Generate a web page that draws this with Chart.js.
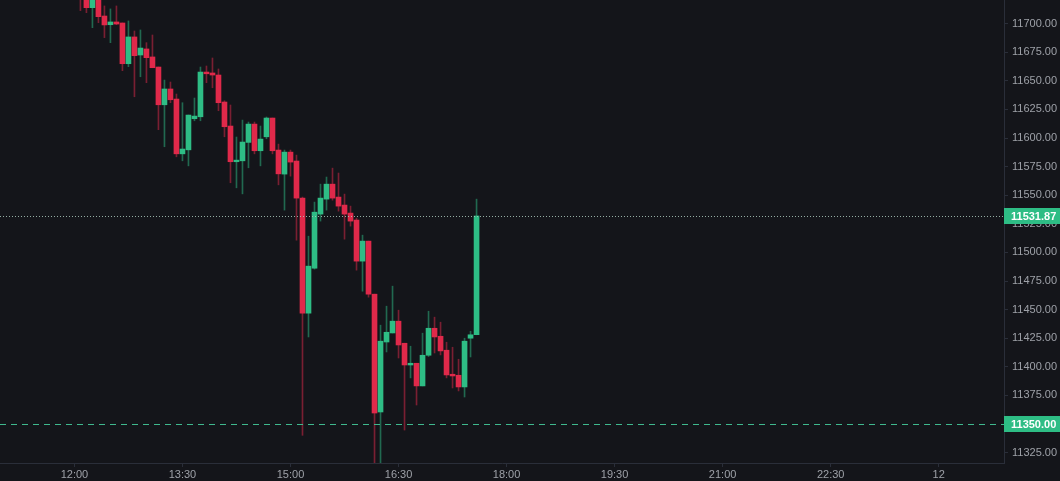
<!DOCTYPE html>
<html>
<head>
<meta charset="utf-8">
<title>Candles</title>
<script src="https://cdn.jsdelivr.net/npm/chart.js@4.4.0/dist/chart.umd.min.js"></script>
<style>
  html, body { margin: 0; padding: 0; background: #14151a; }
  #wrap { width: 1060px; height: 481px; }
</style>
</head>
<body>
<div id="wrap"><canvas id="priceChart" width="1060" height="481"></canvas></div>
<script>
'use strict';

// 5 minute candles
var times = ['12:05','12:10','12:15','12:20','12:25','12:30','12:35','12:40','12:45','12:50',
             '12:55','13:00','13:05','13:10','13:15','13:20','13:25','13:30','13:35','13:40',
             '13:45','13:50','13:55','14:00','14:05','14:10','14:15','14:20','14:25','14:30',
             '14:35','14:40','14:45','14:50','14:55','15:00','15:05','15:10','15:15','15:20',
             '15:25','15:30','15:35','15:40','15:45','15:50','15:55','16:00','16:05','16:10',
             '16:15','16:20','16:25','16:30','16:35','16:40','16:45','16:50','16:55','17:00',
             '17:05','17:10','17:15','17:20','17:25','17:30','17:35'];

var opens  = [11738, 11724, 11714.0, 11723, 11706.7, 11699.1, 11701.5, 11700.6, 11665.0, 11688.4,
              11672.6, 11677.9, 11670.9, 11662.1, 11629.1, 11642.9, 11634.1, 11586.2, 11589.7, 11616.9,
              11618.6, 11657.7, 11656.9, 11655.1, 11631.5, 11610.5, 11579.3, 11580.1, 11596.2, 11612.2,
              11588.9, 11601.1, 11617.5, 11589.5, 11568.5, 11587.7, 11579.9, 11547.5, 11446.9, 11486.2,
              11533.5, 11546.6, 11559.7, 11548.4, 11541.4, 11534.4, 11528.3, 11492.4, 11509.9, 11463.5,
              11360.5, 11421.7, 11429.6, 11439.9, 11420.6, 11401.6, 11403.1, 11383.3, 11410.1, 11433.7,
              11426.7, 11414.5, 11393.5, 11392.6, 11382.4, 11425.0, 11428.1];
var highs  = [11742, 11728, 11726, 11725, 11715.5, 11712.9, 11715.5, 11700.6, 11702.4, 11693.6,
              11694.5, 11683.4, 11690.1, 11662.1, 11650.7, 11649.0, 11638.5, 11630.9, 11620.1, 11635.0,
              11662.1, 11663.0, 11670.0, 11660.4, 11632.6, 11628.9, 11600.9, 11615.7, 11614.0, 11614.0,
              11610.5, 11618.4, 11617.5, 11594.7, 11589.5, 11589.5, 11585.1, 11548.4, 11514.2, 11544.0,
              11559.7, 11565.9, 11573.7, 11569.4, 11551.0, 11540.5, 11530.0, 11515.1, 11509.9, 11463.5,
              11436.4, 11453.0, 11470.5, 11449.5, 11420.6, 11418.0, 11403.1, 11429.4, 11448.6, 11443.4,
              11439.0, 11421.5, 11417.1, 11406.6, 11425.0, 11431.1, 11546.6];
var lows   = [11711.4, 11709.6, 11696.5, 11700.9, 11687.8, 11683.4, 11699.1, 11658.9, 11662.4, 11636.1,
              11653.6, 11648.4, 11661.5, 11607.3, 11592.4, 11630.9, 11583.6, 11580.1, 11575.7, 11615.1,
              11615.1, 11648.4, 11644.0, 11623.9, 11601.1, 11560.9, 11556.5, 11551.2, 11574.0, 11586.2,
              11575.7, 11599.4, 11586.2, 11559.1, 11537.0, 11566.7, 11510.7, 11340.1, 11426.1, 11485.4,
              11527.4, 11537.0, 11545.7, 11536.1, 11511.6, 11523.0, 11484.5, 11466.1, 11460.9, 11310,
              11312, 11413.0, 11429.6, 11407.7, 11344.7, 11390.3, 11366.6, 11383.3, 11409, 11412.1,
              11410.4, 11390.3, 11381.5, 11378.9, 11373.6, 11408.6, 11428];
var closes = [11722, 11714.0, 11723, 11706.1, 11698.9, 11701.5, 11699.7, 11665.0, 11688.4, 11672.0,
              11678.7, 11670.3, 11661.5, 11629.1, 11642.9, 11633.5, 11586.2, 11590.4, 11620.1, 11619.2,
              11657.7, 11656.2, 11655.1, 11630.9, 11609.9, 11579.3, 11580.7, 11596.5, 11612.2, 11588.9,
              11599.1, 11617.5, 11588.9, 11568.7, 11587.7, 11579.0, 11547.5, 11446.9, 11488.0, 11535.2,
              11547.5, 11559.7, 11547.5, 11540.5, 11533.5, 11527.4, 11492.4, 11509.9, 11463.5, 11359.6,
              11422.4, 11430.2, 11439.9, 11419.1, 11401.6, 11403.1, 11383.3, 11410.1, 11433.7, 11426.1,
              11413.9, 11392.9, 11392.0, 11382.4, 11422.4, 11428.0, 11531.87];

var timeTicks  = ['12:00','13:30','15:00','16:30','18:00','19:30','21:00','22:30','12'];
var priceTicks = [11325, 11350, 11375, 11400, 11425, 11450, 11475, 11500, 11525, 11550,
                  11575, 11600, 11625, 11650, 11675, 11700];
var lastPrice = 11531.87;
var markPrice = 11350;

var UP = '#2ebd85', DOWN = '#e0294a';
var UP_WICK = 'rgba(46,189,133,0.5)', DOWN_WICK = 'rgba(224,41,74,0.5)';

// "12" is the day label, i.e. midnight
function toMin(t) {
	if (t.indexOf(':') < 0) return 24 * 60;
	var p = t.split(':');
	return parseInt(p[0]) * 60 + parseInt(p[1]);
}

var xs = times.map(toMin);
var tickMins = timeTicks.map(toMin);

var bodies = [], wicks = [], bodyColors = [], wickColors = [];
for (var i = 0; i < xs.length; i++) {
	bodies.push({ x: xs[i], y: [opens[i], closes[i]] });
	wicks.push({ x: xs[i], y: [lows[i], highs[i]] });
	var up = closes[i] >= opens[i];
	bodyColors.push(up ? UP : DOWN);
	wickColors.push(up ? UP_WICK : DOWN_WICK);
}

var priceLines = {
	id: 'priceLines',
	afterDatasetsDraw: function (chart) {
		var c = chart.ctx, a = chart.chartArea, y = chart.scales.y;
		c.save();
		c.lineWidth = 1;
		// last price, dotted
		var yl = Math.round(y.getPixelForValue(lastPrice)) + 0.5;
		c.strokeStyle = 'rgba(170,200,188,0.85)';
		c.setLineDash([1, 2]);
		c.beginPath(); c.moveTo(a.left, yl); c.lineTo(a.right, yl); c.stroke();
		// marked level, dashed
		var ym = Math.round(y.getPixelForValue(markPrice)) + 0.5;
		c.strokeStyle = '#3fb98e';
		c.setLineDash([6, 5]);
		c.beginPath(); c.moveTo(a.left, ym); c.lineTo(a.right, ym); c.stroke();
		c.restore();
	},
	afterDraw: function (chart) {
		var c = chart.ctx, a = chart.chartArea, y = chart.scales.y;
		c.save();
		[lastPrice, markPrice].forEach(function (v) {
			var py = y.getPixelForValue(v);
			c.fillStyle = UP;
			c.fillRect(a.right, Math.round(py) - 8, chart.width - a.right, 16);
			c.fillStyle = '#ffffff';
			c.font = 'bold 11px "Liberation Sans", Arial, sans-serif';
			c.textBaseline = 'middle';
			c.textAlign = 'left';
			c.fillText(v.toFixed(2), a.right + 7, Math.round(py) + 0.5);
		});
		c.restore();
	}
};

var ctx = document.getElementById('priceChart').getContext('2d');

var chart = new Chart(ctx, {
	type: 'bar',
	data: {
		datasets: [{
			label: 'body',
			data: bodies,
			backgroundColor: bodyColors,
			barThickness: 5,
			minBarLength: 1,
			grouped: false,
			borderWidth: 0
		}, {
			label: 'wick',
			data: wicks,
			backgroundColor: wickColors,
			barThickness: 1,
			grouped: false,
			borderWidth: 0
		}]
	},
	options: {
		responsive: false,
		animation: false,
		devicePixelRatio: 1,
		layout: { padding: 0 },
		plugins: { legend: { display: false }, tooltip: { enabled: false } },
		scales: {
			x: {
				type: 'linear',
				min: 658,
				max: 1494.4,
				offset: false,
				grid: { display: true, drawOnChartArea: false, offset: false, color: '#2a2e39', tickLength: 4 },
				border: { display: true, color: '#2a2e39' },
				afterBuildTicks: function (s) { s.ticks = tickMins.map(function (v) { return { value: v }; }); },
				afterFit: function (s) { s.height = 18; s.paddingLeft = 0; s.paddingRight = 0; },
				ticks: {
					autoSkip: false,
					maxRotation: 0,
					padding: 1,
					color: '#9ea1a8',
					font: { family: '"Liberation Sans", Arial, sans-serif', size: 11 },
					callback: function (v) { return timeTicks[tickMins.indexOf(v)]; }
				}
			},
			y: {
				position: 'right',
				min: 11315.9,
				max: 11720.7,
				grid: { display: true, drawOnChartArea: false, color: '#2a2e39', tickLength: 4 },
				border: { display: true, color: '#2a2e39' },
				afterBuildTicks: function (s) { s.ticks = priceTicks.map(function (v) { return { value: v }; }); },
				afterFit: function (s) { s.width = 56; s.paddingTop = 0; s.paddingBottom = 0; },
				ticks: {
					padding: 4,
					color: '#9ea1a8',
					font: { family: '"Liberation Sans", Arial, sans-serif', size: 11 },
					callback: function (v) { return v.toFixed(2); }
				}
			}
		}
	},
	plugins: [priceLines]
});
</script>
</body>
</html>
